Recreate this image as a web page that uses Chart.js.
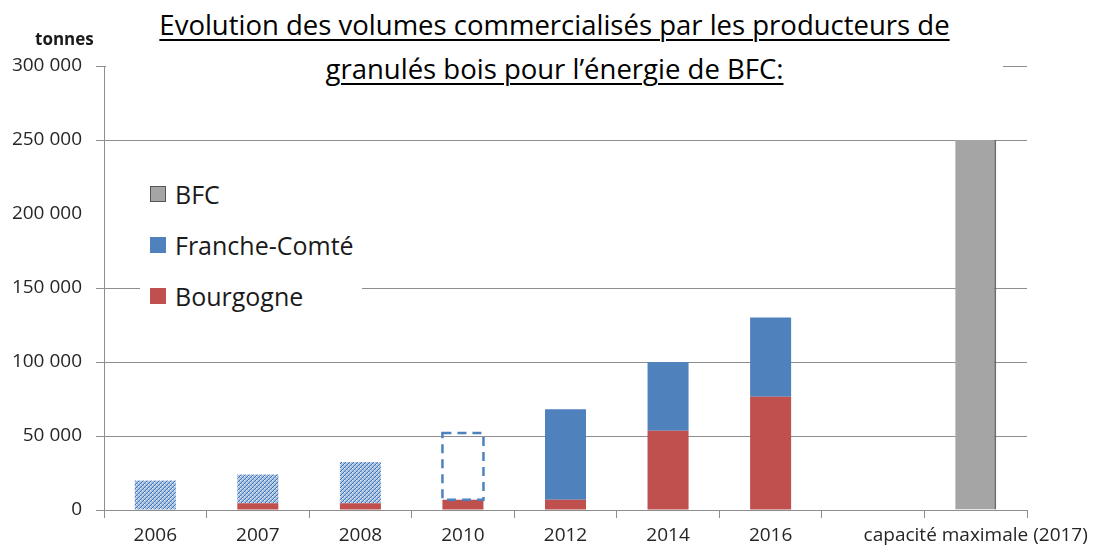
<!DOCTYPE html>
<html lang="fr">
<head>
<meta charset="utf-8">
<script src="https://cdn.jsdelivr.net/npm/chart.js@4.4.0/dist/chart.umd.min.js"></script>
<style>
  html, body { margin: 0; padding: 0; background: #fff; }
  #wrap { position: relative; width: 1093px; height: 549px; font-family: "Open Sans", sans-serif; }
  #title {
    position: absolute; left: 106px; top: 3px; width: 897px; height: 100px;
    background: #fff; text-align: center; font-size: 27.5px; line-height: 44px;
    color: #000; text-decoration: underline; text-decoration-thickness: 2px; text-underline-offset: 4px;
  }
  #unit { position: absolute; left: 35px; top: 30px; font-size: 17px; font-weight: bold; line-height: 17px; color: #1a1a1a; }
  #legend { position: absolute; left: 140px; top: 168px; width: 222px; height: 153px; background: #fff; }
  .row { display: flex; align-items: center; height: 51px; padding-left: 10px; font-size: 25px; color: #1a1a1a; }
  .sq { width: 16px; height: 16px; margin-right: 9px; box-sizing: border-box; }
</style>
</head>
<body>
<div id="wrap">
  <canvas id="chart" width="1093" height="549"></canvas>
  <div id="title">Evolution des volumes commercialisés par les producteurs de<br>granulés bois pour l’énergie de BFC:</div>
  <div id="unit">tonnes</div>
  <div id="legend"></div>
</div>
<script>
// Chart data (tonnes)
const categories = ['2006', '2007', '2008', '2010', '2012', '2014', '2016', '', 'capacité maximale (2017)'];
const bourgogne = [null, 4500, 4500, 7000, 7000, 53500, 76500, null, null];
const francheComte = [null, null, null, null, 61000, 46500, 53500, null, null];
const estimationHachuree = [20000, 19500, 28000, null, null, null, null, null, null];
const estimation2010 = [null, null, null, 45000, null, null, null, null, null];
const bfc = [null, null, null, null, null, null, null, null, 250000];
const yTicks = [0, 50000, 100000, 150000, 200000, 250000, 300000];

const BLUE = '#4F81BD';
const RED = '#C0504D';
const GRAY = '#A5A5A5';
const GRID = '#8e8e8e';

/**
 * Small diagonal hatch used for the early estimated volumes
 */
function makeHatch() {
  const c = document.createElement('canvas');
  c.width = 4;
  c.height = 4;
  const g = c.getContext('2d');
  g.fillStyle = '#a9c2e2';
  g.fillRect(0, 0, 4, 4);
  g.fillStyle = '#3f74b8';
  for (let i = 0; i < 4; i++) {
    g.fillRect(i, 3 - i, 1, 1);
  }
  g.fillStyle = '#e8eef7';
  g.fillRect(0, 0, 1, 1);
  g.fillRect(2, 2, 1, 1);
  return g.createPattern(c, 'repeat');
}

function formatThousands(v) {
  return String(v).replace(/\B(?=(\d{3})+(?!\d))/g, ' ');
}

// Dashed outline drawn around the 2010 estimate bar
const dashedOutline = {
  id: 'dashedOutline',
  afterDatasetsDraw(chart) {
    const meta = chart.getDatasetMeta(3);
    const ctx = chart.ctx;
    meta.data.forEach((bar, i) => {
      if (estimation2010[i] == null) return;
      const p = bar.getProps(['x', 'y', 'base', 'width'], true);
      ctx.save();
      ctx.setLineDash([9, 6]);
      ctx.strokeStyle = BLUE;
      ctx.lineWidth = 2.5;
      ctx.strokeRect(p.x - p.width / 2, p.y, p.width, p.base - p.y);
      ctx.restore();
    });
  }
};

Chart.defaults.font.family = '"Open Sans", sans-serif';

const chart = new Chart(document.getElementById('chart'), {
  type: 'bar',
  data: {
    labels: categories,
    datasets: [
      { label: 'Bourgogne', data: bourgogne, backgroundColor: RED },
      { label: 'Franche-Comté', data: francheComte, backgroundColor: BLUE },
      { label: 'estimation', data: estimationHachuree, backgroundColor: makeHatch() },
      { label: 'estimation 2010', data: estimation2010, backgroundColor: 'rgba(0,0,0,0)' },
      { label: 'BFC', data: bfc, backgroundColor: GRAY, borderColor: '#6b6b6b', borderWidth: { right: 2 } }
    ]
  },
  options: {
    responsive: false,
    animation: false,
    events: [],
    barPercentage: 0.4,
    categoryPercentage: 1,
    layout: { padding: { left: 0, top: 66, right: 66, bottom: 0 } },
    plugins: {
      legend: { display: false },
      tooltip: { enabled: false }
    },
    scales: {
      x: {
        stacked: true,
        grid: { drawOnChartArea: false, offset: true, tickLength: 8, color: GRID },
        border: { color: GRID },
        ticks: { autoSkip: false, maxRotation: 0, padding: 6, color: '#262626', font: { size: 19 } },
        afterFit(scale) {
          scale.height = 39;
          scale.paddingLeft = 0;
          scale.paddingRight = 0;
        }
      },
      y: {
        stacked: true,
        min: 0,
        max: 300000,
        afterBuildTicks(scale) {
          scale.ticks = yTicks.map(v => ({ value: v }));
        },
        grid: {
          tickLength: 8,
          color: ctx => (ctx.tick && ctx.tick.value === 200000 ? 'rgba(0,0,0,0)' : GRID)
        },
        border: { color: GRID },
        ticks: { padding: 14, color: '#262626', font: { size: 19 }, callback: v => formatThousands(v) },
        afterFit(scale) {
          scale.width = 104;
        }
      }
    }
  },
  plugins: [dashedOutline]
});

// Legend in the reference order: BFC, Franche-Comté, Bourgogne
const legendItems = [
  { label: 'BFC', color: GRAY, border: '1px solid #555' },
  { label: 'Franche-Comté', color: BLUE, border: 'none' },
  { label: 'Bourgogne', color: RED, border: 'none' }
];
const legend = document.getElementById('legend');
legendItems.forEach(item => {
  const row = document.createElement('div');
  row.className = 'row';
  row.innerHTML = `<span class="sq" style="background:${item.color};border:${item.border}"></span><span>${item.label}</span>`;
  legend.appendChild(row);
});
</script>
</body>
</html>
